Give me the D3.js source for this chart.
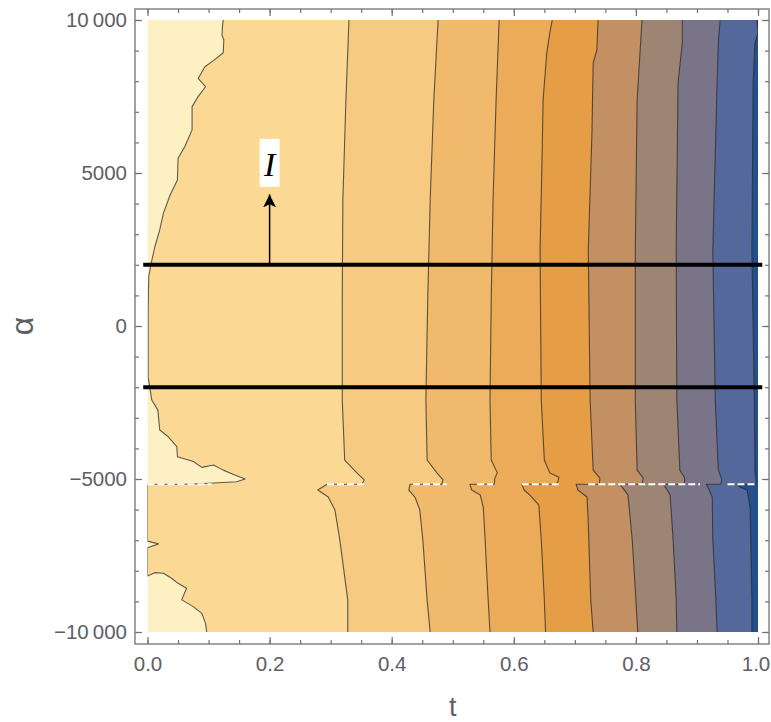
<!DOCTYPE html>
<html>
<head>
<meta charset="utf-8">
<script src="https://cdn.jsdelivr.net/npm/d3@7"></script>
<style>
  body { margin: 0; background: #fff; }
  text { font-family: "Liberation Sans", Arial, sans-serif; }
</style>
</head>
<body>
<div id="chart"></div>
<script>
// tick values and labels
var xTicks = [0, 0.2, 0.4, 0.6, 0.8, 1.0];
var xMinor = d3.range(0, 1.0001, 0.05);
var yTicks = [-10000, -5000, 0, 5000, 10000];
var yTickLabels = ["\u221210\u2009000", "\u22125000", "0", "5000", "10\u2009000"];
var yMinor = d3.range(-10000, 10001, 1000);

// fill colours, left (high) to right (low)
var bandColors = ["#fdf0c2", "#fbd893", "#f7ca81", "#f0b96b", "#ebab59", "#e59e46",
                  "#c29062", "#9e8472", "#797488", "#54689c", "#22508c"];

// contour lines as [alpha, t]
var contour1 = [[10000,.124],[9840,.123],[9510,.122],[9350,.125],[8930,.124],[8690,.109],[8470,.094],
  [8090,.083],[7820,.095],[7470,.082],[7170,.073],[6410,.073],[5860,.061],[5480,.050],[4770,.049],
  [4280,.037],[3680,.026],[3140,.020],[2590,.012],[2050,.006],[1610,.002],[520,.001],[-1660,.001],
  [-2420,.007],[-2750,.017],[-3400,.020],[-3620,.034],[-3940,.048],[-4270,.049],[-4430,.075],
  [-4620,.089],[-4540,.108],[-4710,.124],[-4870,.143],[-5000,.160],[-5090,.146],[-5140,.100],
  [-5170,.060],[-5170,0],[-7030,0],[-7120,.018],[-7220,.004],[-7250,0],[-8170,0],[-8060,.012],
  [-8080,.026],[-8250,.040],[-8410,.050],[-8570,.064],[-8950,.056],[-9170,.075],[-9390,.089],
  [-9720,.095],[-10000,.097]];
var contour2 = [[10000,.330],[7390,.325],[4120,.320],[850,.319],[-2420,.319],[-4380,.323],[-4800,.343],
  [-5030,.355],[-5170,.351],[-5170,.294],[-5360,.279],[-5590,.296],[-6010,.307],[-6990,.315],
  [-8950,.328],[-10000,.328]];
var contour3 = [[10000,.476],[7390,.469],[4120,.463],[850,.459],[-2420,.456],[-4380,.458],[-4800,.474],
  [-5030,.484],[-5170,.482],[-5170,.430],[-5360,.428],[-5590,.438],[-6010,.446],[-6990,.451],
  [-8950,.458],[-10000,.463]];
var contour4 = [[10000,.576],[7390,.571],[4120,.566],[850,.563],[-2420,.561],[-4380,.563],[-4800,.573],
  [-4970,.569],[-5170,.568],[-5170,.528],[-5360,.531],[-5520,.545],[-5920,.550],[-6990,.553],
  [-8950,.558],[-10000,.561]];
var contour5 = [[10000,.663],[9580,.659],[8920,.654],[7390,.648],[5200,.646],[2480,.643],[-2420,.645],
  [-4380,.650],[-4800,.659],[-4940,.674],[-5100,.672],[-5170,.669],[-5170,.613],[-5360,.617],
  [-5560,.628],[-5850,.641],[-6990,.645],[-8950,.650],[-10000,.652]];
var contour6 = [[10000,.738],[9020,.736],[8590,.730],[6310,.728],[2480,.722],[-2420,.725],[-4710,.730],
  [-4970,.741],[-5170,.740],[-5170,.702],[-5360,.705],[-5590,.720],[-6440,.722],[-8950,.726],
  [-10000,.730]];
var contour7 = [[10000,.810],[9020,.807],[7390,.802],[2480,.799],[-2420,.799],[-4710,.802],[-4970,.812],
  [-5170,.810],[-5170,.774],[-5260,.777],[-5520,.787],[-6990,.794],[-8950,.800],[-10000,.803]];
var contour8 = [[10000,.876],[9250,.876],[7940,.869],[2480,.866],[-2420,.867],[-4710,.872],[-4970,.880],
  [-5170,.879],[-5170,.844],[-5260,.848],[-5520,.856],[-6990,.861],[-8950,.866],[-10000,.867]];
var contour9 = [[10000,.938],[9250,.935],[7940,.933],[2480,.926],[-2420,.930],[-4710,.935],[-5030,.941],
  [-5170,.939],[-5170,.915],[-5260,.918],[-5590,.925],[-6990,.926],[-8950,.931],[-10000,.933]];
var contour10 = [[10000,.998],[9580,1.0],[9250,.995],[7940,.992],[2480,.990],[-2420,.994],[-4710,.995],
  [-5100,.997],[-5170,.995],[-5170,.966],[-5260,.970],[-5360,.982],[-5920,.987],[-8950,.990],
  [-10000,.990]];
var contours = [contour1, contour2, contour3, contour4, contour5, contour6, contour7, contour8, contour9, contour10];

// white seam along the cut
var breakAlpha = -5170;
var breakDashes = [[0, .105], [.294, .354], [.435, .49], [.54, .566], [.613, .674], [.722, .905], [.95, .995]];

// overlays
var bandLines = [2000, -2000];
var bandLineT = [-0.007, 1.007];
var arrowT = 0.2, arrowFrom = 2000, arrowTo = 4300;
var labelAlpha = 5300, labelText = "I";

var W = 771, H = 722;
var svg = d3.select("#chart").append("svg").attr("width", W).attr("height", H);

var x = d3.scaleLinear().domain([0, 1]).range([147.5, 758]);
var y = d3.scaleLinear().domain([-10000, 10000]).range([632, 20]);

var frame = { left: 135, right: 769, top: 9, bottom: 644 };

svg.append("defs").append("clipPath").attr("id", "clip")
  .append("rect")
  .attr("x", x(0)).attr("y", y(10000))
  .attr("width", x(1) - x(0)).attr("height", y(-10000) - y(10000));

var plot = svg.append("g").attr("clip-path", "url(#clip)");

var line = d3.line().x(d => x(d[1])).y(d => y(d[0]));

// bands
plot.append("rect")
  .attr("x", x(0)).attr("y", y(10000))
  .attr("width", x(1) - x(0)).attr("height", y(-10000) - y(10000))
  .attr("fill", bandColors[0]);

contours.forEach(function(c, i) {
  var poly = c.concat([[-10000, 1.02], [10000, 1.02]]);
  plot.append("path")
    .attr("d", line(poly) + "Z")
    .attr("fill", bandColors[i + 1]);
});

contours.forEach(function(c) {
  plot.append("path")
    .attr("d", line(c))
    .attr("fill", "none")
    .attr("stroke", "#2b2b2b")
    .attr("stroke-opacity", 0.75)
    .attr("stroke-width", 1.1)
    .attr("stroke-linejoin", "round");
});

breakDashes.forEach(function(s) {
  plot.append("line")
    .attr("x1", x(s[0])).attr("x2", x(s[1]))
    .attr("y1", y(breakAlpha)).attr("y2", y(breakAlpha))
    .attr("stroke", "#fff")
    .attr("stroke-width", 2)
    .attr("stroke-dasharray", "7,3");
});

// black lines
bandLines.forEach(function(a) {
  svg.append("line")
    .attr("x1", x(bandLineT[0])).attr("x2", x(bandLineT[1]))
    .attr("y1", y(a)).attr("y2", y(a))
    .attr("stroke", "#000")
    .attr("stroke-width", 4);
});

// arrow
svg.append("defs").append("marker")
  .attr("id", "head")
  .attr("viewBox", "0 0 10 10")
  .attr("refX", 10).attr("refY", 5)
  .attr("markerWidth", 13).attr("markerHeight", 22)
  .attr("markerUnits", "userSpaceOnUse")
  .attr("orient", "auto")
  .append("path")
  .attr("d", "M0,0 L10,5 L0,10 L2.5,5 Z")
  .attr("fill", "#000");

svg.append("line")
  .attr("x1", x(arrowT)).attr("x2", x(arrowT))
  .attr("y1", y(arrowFrom)).attr("y2", y(arrowTo))
  .attr("stroke", "#000")
  .attr("stroke-width", 1.5)
  .attr("marker-end", "url(#head)");

svg.append("rect")
  .attr("x", x(arrowT) - 10).attr("y", y(labelAlpha) - 25)
  .attr("width", 20).attr("height", 48)
  .attr("fill", "#fff");

svg.append("text")
  .attr("x", x(arrowT)).attr("y", y(labelAlpha) + 12)
  .attr("text-anchor", "middle")
  .style("font-family", "'Liberation Serif', 'Times New Roman', serif")
  .style("font-style", "italic")
  .style("font-size", "34px")
  .attr("fill", "#000")
  .text(labelText);

// frame and ticks
var frameColor = "#727272";
svg.append("rect")
  .attr("x", frame.left).attr("y", frame.top)
  .attr("width", frame.right - frame.left).attr("height", frame.bottom - frame.top)
  .attr("fill", "none")
  .attr("stroke", frameColor)
  .attr("stroke-width", 1.3);

function styleAxis(g) {
  g.select(".domain").remove();
  g.selectAll(".tick line").attr("stroke", frameColor).attr("stroke-width", 1.2);
  g.selectAll(".tick text")
    .attr("fill", "#5e5e66")
    .style("font-size", "20.5px");
}

// major, labelled
svg.append("g").attr("transform", "translate(0," + frame.bottom + ")")
  .call(d3.axisBottom(x).tickValues(xTicks).tickSize(-7).tickPadding(12).tickFormat(d3.format(".1f")))
  .call(styleAxis)
  .selectAll(".tick text")
  .attr("dx", function(d) { return d === 1 ? -2.5 : 0; });
svg.append("g").attr("transform", "translate(" + frame.left + ",0)")
  .call(d3.axisLeft(y).tickValues(yTicks).tickSize(-7).tickPadding(8)
    .tickFormat(function(d, i) { return yTickLabels[i]; }))
  .call(styleAxis);
// mirrored major, no labels
svg.append("g").attr("transform", "translate(0," + frame.top + ")")
  .call(d3.axisTop(x).tickValues(xTicks).tickSize(-7).tickFormat(""))
  .call(styleAxis);
svg.append("g").attr("transform", "translate(" + frame.right + ",0)")
  .call(d3.axisRight(y).tickValues(yTicks).tickSize(-7).tickFormat(""))
  .call(styleAxis);
// minor
[["b", frame.bottom], ["t", frame.top]].forEach(function(p) {
  var ax = p[0] === "b" ? d3.axisBottom(x) : d3.axisTop(x);
  svg.append("g").attr("transform", "translate(0," + p[1] + ")")
    .call(ax.tickValues(xMinor).tickSize(-4).tickFormat(""))
    .call(styleAxis);
});
[["l", frame.left], ["r", frame.right]].forEach(function(p) {
  var ax = p[0] === "l" ? d3.axisLeft(y) : d3.axisRight(y);
  svg.append("g").attr("transform", "translate(" + p[1] + ",0)")
    .call(ax.tickValues(yMinor).tickSize(-4).tickFormat(""))
    .call(styleAxis);
});

// axis titles
svg.append("text")
  .attr("x", (x(0) + x(1)) / 2).attr("y", 716)
  .attr("text-anchor", "middle")
  .attr("fill", "#5e5e66")
  .style("font-size", "27px")
  .text("t");

svg.append("text")
  .attr("transform", "translate(33," + (y(0)) + ") rotate(-90)")
  .attr("text-anchor", "middle")
  .attr("fill", "#5e5e66")
  .style("font-size", "32px")
  .text("\u03b1");
</script>
</body>
</html>
